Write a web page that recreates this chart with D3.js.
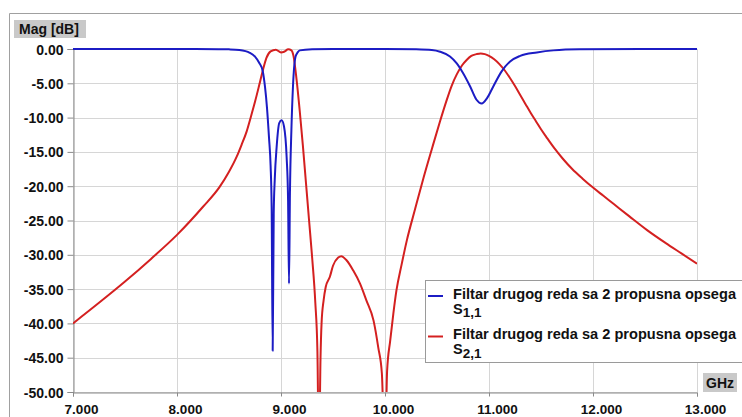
<!DOCTYPE html>
<html>
<head>
<meta charset="utf-8">
<script src="https://cdn.jsdelivr.net/npm/d3@7"></script>
<style>
  html, body { margin: 0; padding: 0; background: #ffffff; }
  svg { display: block; }
  text { font-family: Arial, "Liberation Sans", sans-serif; font-weight: bold; fill: #111; }
</style>
</head>
<body>
<svg id="chart" width="742" height="417"></svg>
<script>
// ---------- data ----------
const xTicks = [7, 8, 9, 10, 11, 12, 13];
const xTickLabels = ["7.000", "8.000", "9.000", "10.000", "11.000", "12.000", "13.000"];
const yTicks = [0, -5, -10, -15, -20, -25, -30, -35, -40, -45, -50];
const yTickLabels = ["0.00", "-5.00", "-10.00", "-15.00", "-20.00", "-25.00", "-30.00", "-35.00", "-40.00", "-45.00", "-50.00"];

const seriesNames = ["Filtar drugog reda sa 2 propusna opsega", "Filtar drugog reda sa 2 propusna opsega"];
const seriesSubs = [["S", "1,1"], ["S", "2,1"]];

// S11 (blue)
const s11Freq = [7.0, 8.0, 8.4, 8.5, 8.6, 8.7, 8.75, 8.79, 8.824, 8.846, 8.865, 8.885, 8.90, 8.91, 8.92, 8.93, 8.94, 8.958, 8.983, 9.006, 9.029, 9.054, 9.068, 9.077, 9.086, 9.10, 9.115, 9.14, 9.16, 9.18, 9.3, 9.5, 10.0, 10.3, 10.45, 10.53, 10.625, 10.69, 10.75, 10.82, 10.88, 10.93, 10.98, 11.04, 11.12, 11.2, 11.3, 11.46, 11.62, 11.87, 12.5, 13.0];
const s11Mag  = [0, 0, -0.02, -0.05, -0.15, -0.55, -1.1, -2.0, -3.2, -5.5, -8.5, -13, -17, -23, -44, -24, -19, -14.3, -10.8, -10.4, -11.3, -15.7, -22, -34.2, -21, -11.8, -5.5, -1.1, -0.5, -0.2, -0.05, 0, 0, -0.05, -0.15, -0.4, -1.1, -2.1, -3.5, -5.5, -7.4, -7.95, -7.2, -5.5, -3.3, -1.85, -1.0, -0.5, -0.2, -0.05, 0, 0];

// S21 (red)
const s21Freq = [7.0, 7.25, 7.5, 7.75, 8.0, 8.25, 8.41, 8.5, 8.574, 8.62, 8.67, 8.71, 8.75, 8.79, 8.824, 8.86, 8.9, 8.95, 9.0, 9.03, 9.07, 9.1, 9.12, 9.15, 9.18, 9.21, 9.24, 9.27, 9.30, 9.33, 9.35, 9.365, 9.38, 9.39, 9.41, 9.43, 9.47, 9.5, 9.55, 9.58, 9.63, 9.695, 9.76, 9.82, 9.89, 9.935, 9.97, 10.0, 10.02, 10.05, 10.08, 10.11, 10.16, 10.21, 10.29, 10.37, 10.45, 10.53, 10.59, 10.64, 10.69, 10.74, 10.785, 10.83, 10.88, 10.92, 10.96, 11.0, 11.05, 11.1, 11.15, 11.2, 11.25, 11.3, 11.35, 11.4, 11.45, 11.5, 11.55, 11.63, 11.71, 11.8, 11.9, 12.0, 12.1, 12.2, 12.35, 12.52, 12.7, 12.85, 13.0];
const s21Mag  = [-40, -37.0, -33.9, -30.6, -27.1, -23.0, -20.1, -17.9, -15.7, -14.0, -12.0, -9.9, -7.7, -5.3, -3.2, -1.3, -0.35, -0.1, -0.5, -0.4, -0.05, -0.2, -1.0, -4.5, -9, -14, -19.5, -25, -30.5, -37, -44, -60, -45, -40, -36.6, -34.7, -33.2, -31.6, -30.4, -30.2, -30.8, -32.3, -34.2, -36.6, -39.6, -43.5, -47.3, -60, -47, -42.5, -38.6, -35.2, -31.4, -27.9, -23.3, -18.8, -14.6, -10.5, -7.6, -5.4, -3.7, -2.4, -1.6, -1.0, -0.75, -0.65, -0.75, -1.0, -1.5, -2.2, -3.1, -4.2, -5.4, -6.7, -8.0, -9.3, -10.5, -11.7, -12.8, -14.5, -16.0, -17.5, -18.9, -20.2, -21.4, -22.6, -24.4, -26.4, -28.3, -29.8, -31.3];

const seriesColors = ["#1c1cc4", "#d42020"];

// ---------- layout ----------
const svg = d3.select("#chart");
const x = d3.scaleLinear().domain([7, 13]).range([73, 697]);
const y = d3.scaleLinear().domain([-50, 0]).range([392, 49]);

// outer frame
svg.append("line").attr("x1", 9.5).attr("y1", 13.5).attr("x2", 742).attr("y2", 13.5).attr("stroke", "#a0a0a0");
svg.append("line").attr("x1", 9.5).attr("y1", 13.5).attr("x2", 9.5).attr("y2", 417).attr("stroke", "#a0a0a0");

// gridlines
const grid = svg.append("g");
grid.selectAll(".vg").data(xTicks).join("line")
  .attr("x1", d => Math.round(x(d)) + 0.5).attr("x2", d => Math.round(x(d)) + 0.5)
  .attr("y1", y(0)).attr("y2", y(-50))
  .attr("stroke", "#d6d6d6").attr("stroke-width", 1);
grid.selectAll(".hg").data(yTicks).join("line")
  .attr("x1", x(7)).attr("x2", x(13))
  .attr("y1", d => Math.round(y(d)) + 0.5).attr("y2", d => Math.round(y(d)) + 0.5)
  .attr("stroke", "#d6d6d6").attr("stroke-width", 1);

// axes
const yAxis = d3.axisLeft(y).tickValues(yTicks).tickSize(6).tickPadding(4)
  .tickFormat((d, i) => yTickLabels[i]);
const gy = svg.append("g").attr("transform", `translate(${Math.round(x(7)) + 0.5},0)`).call(yAxis);
gy.select(".domain").attr("stroke", "#8a8a8a");
gy.selectAll(".tick line").attr("stroke", "#8a8a8a");
gy.selectAll(".tick text").attr("font-size", 14).attr("font-weight", "bold")
  .attr("font-family", "Arial, 'Liberation Sans', sans-serif").attr("fill", "#111")
  .attr("dy", "0.36em");

const xAxis = d3.axisBottom(x).tickValues(xTicks).tickSize(4).tickPadding(8)
  .tickFormat((d, i) => xTickLabels[i]);
const gx = svg.append("g").attr("transform", `translate(0,${Math.round(y(-50)) + 0.5})`).call(xAxis);
gx.select(".domain").attr("stroke", "#8a8a8a");
gx.selectAll(".tick line").attr("stroke", "#8a8a8a");
gx.selectAll(".tick text").attr("font-size", 13.5).attr("font-weight", "bold")
  .attr("font-family", "Arial, 'Liberation Sans', sans-serif").attr("fill", "#111")
  .attr("dx", 8);

// axis title boxes
svg.append("rect").attr("x", 14).attr("y", 20).attr("width", 72).attr("height", 18).attr("fill", "#c9c9c9");
svg.append("text").attr("x", 19).attr("y", 34).attr("font-size", 14).text("Mag [dB]");
svg.append("rect").attr("x", 703).attr("y", 373).attr("width", 34).attr("height", 19).attr("fill", "#c9c9c9");
svg.append("text").attr("x", 720).attr("y", 388).attr("text-anchor", "middle").attr("font-size", 14).text("GHz");

// clip
svg.append("clipPath").attr("id", "plotclip").append("rect")
  .attr("x", x(7)).attr("y", y(0) - 3).attr("width", x(13) - x(7)).attr("height", y(-50) - y(0) + 3);

const line = d3.line().x(d => x(d[0])).y(d => y(d[1])).curve(d3.curveMonotoneX);
const s21 = s21Freq.map((f, i) => [f, s21Mag[i]]);
const s11 = s11Freq.map((f, i) => [f, s11Mag[i]]);

const plot = svg.append("g").attr("clip-path", "url(#plotclip)");
plot.append("path").datum(s21).attr("d", line).attr("fill", "none")
  .attr("stroke", seriesColors[1]).attr("stroke-width", 2).attr("stroke-linejoin", "round");
plot.append("path").datum(s11).attr("d", line).attr("fill", "none")
  .attr("stroke", seriesColors[0]).attr("stroke-width", 2).attr("stroke-linejoin", "round");

// legend
const lg = svg.append("g");
lg.append("rect").attr("x", 425.5).attr("y", 280.5).attr("width", 330).attr("height", 82)
  .attr("fill", "#ffffff").attr("stroke", "#9a9a9a");
seriesNames.forEach((name, i) => {
  const ly = 296 + i * 40.5;
  lg.append("line").attr("x1", 428).attr("x2", 443).attr("y1", ly).attr("y2", ly)
    .attr("stroke", seriesColors[i]).attr("stroke-width", 2);
  lg.append("text").attr("x", 453).attr("y", ly + 2.5).attr("font-size", 14.6).text(name);
  const t = lg.append("text").attr("x", 453).attr("y", ly + 17.5).attr("font-size", 14.5);
  t.append("tspan").text(seriesSubs[i][0]);
  t.append("tspan").attr("dy", 3.5).attr("font-size", 13.5).text(seriesSubs[i][1]);
});
</script>
</body>
</html>
